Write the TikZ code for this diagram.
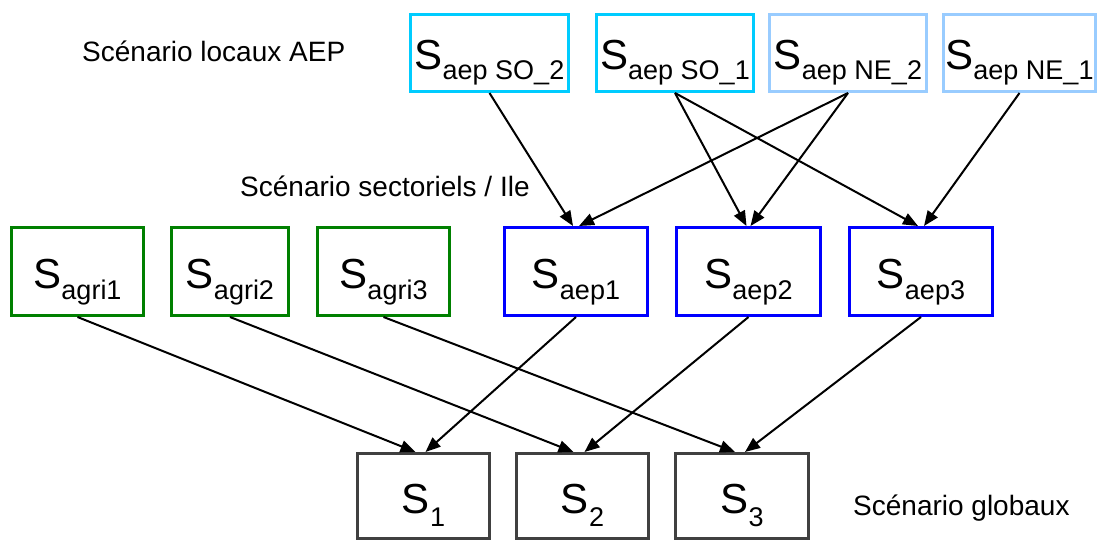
\documentclass[tikz,border=0pt]{standalone}
\usepackage{fontspec}
\setmainfont{Liberation Sans}
\usetikzlibrary{arrows.meta}
\definecolor{cyanb}{RGB}{0,204,255}
\definecolor{lblue}{RGB}{153,204,255}
\definecolor{greenb}{RGB}{0,128,0}
\definecolor{blueb}{RGB}{0,0,255}
\definecolor{grayb}{RGB}{64,64,64}
\newcommand\Sname[2][-10pt]{{\fontsize{42}{42}\selectfont S}\raisebox{#1}{\fontsize{27}{27}\selectfont #2}}
\begin{document}
\begin{tikzpicture}[x=1pt,y=-1pt,
  box/.style={draw,line width=3pt,inner sep=0pt,minimum height=#1},
  topbox/.style={box=77pt},
  midbox/.style={box=88pt},
  botbox/.style={box=85pt},
  txt/.style={anchor=base,inner sep=0pt},
  arr/.style={-{Triangle[length=15pt,width=12pt]},line width=2pt},
  lbl/.style={font=\fontsize{28}{28}\selectfont,inner sep=0pt}]
\useasboundingbox (0,0) rectangle (1100,545);
% top row
\node[topbox,draw=cyanb,minimum width=158pt] (so2) at (489.5,53) {};
\node[topbox,draw=cyanb,minimum width=157pt] (so1) at (675,53) {};
\node[topbox,draw=lblue,minimum width=157pt] (ne2) at (848,53) {};
\node[topbox,draw=lblue,minimum width=152pt] (ne1) at (1019.5,53) {};
\node[txt] (tso2) at (489.5,70) {\Sname{aep SO\_2}};
\node[txt] (tso1) at (675,70) {\Sname{aep SO\_1}};
\node[txt] (tne2) at (848,70) {\Sname{aep NE\_2}};
\node[txt] (tne1) at (1019.5,70) {\Sname{aep NE\_1}};
% middle row
\node[midbox,draw=greenb,minimum width=132pt] (ag1) at (77.5,271.5) {};
\node[midbox,draw=greenb,minimum width=117pt] (ag2) at (230,271.5) {};
\node[midbox,draw=greenb,minimum width=132pt] (ag3) at (383.5,271.5) {};
\node[midbox,draw=blueb,minimum width=143pt] (ae1) at (576,271.5) {};
\node[midbox,draw=blueb,minimum width=144pt] (ae2) at (748.5,271.5) {};
\node[midbox,draw=blueb,minimum width=143pt] (ae3) at (921,271.5) {};
\node[txt] (tag1) at (77.5,289) {\Sname{agri1}};
\node[txt] (tag2) at (230,289) {\Sname{agri2}};
\node[txt] (tag3) at (383.5,289) {\Sname{agri3}};
\node[txt] (tae1) at (576,289) {\Sname{aep1}};
\node[txt] (tae2) at (748.5,289) {\Sname{aep2}};
\node[txt] (tae3) at (921,289) {\Sname{aep3}};
% bottom row
\node[botbox,draw=grayb,minimum width=132pt] (s1) at (423.5,496) {};
\node[botbox,draw=grayb,minimum width=132pt] (s2) at (582.5,496) {};
\node[botbox,draw=grayb,minimum width=133pt] (s3) at (742,496) {};
\node[txt] (ts1) at (423.5,513) {\Sname[-13pt]{1}};
\node[txt] (ts2) at (582.5,513) {\Sname[-13pt]{2}};
\node[txt] (ts3) at (742,513) {\Sname[-13pt]{3}};
% labels
\node[lbl,anchor=base west] (l1) at (82,62) {Scénario locaux AEP};
\node[lbl,anchor=base west] (l2) at (240,197) {Scénario sectoriels / Ile};
\node[lbl,anchor=base west] (l3) at (853,515) {Scénario globaux};
% arrows top -> middle
\draw[arr] (so2.south) -- ([xshift=-3pt]ae1.north);
\draw[arr] (ne2.south) -- ([xshift=3pt]ae1.north);
\draw[arr] (so1.south) -- ([xshift=-2pt]ae2.north);
\draw[arr] (ne2.south) -- ([xshift=2pt]ae2.north);
\draw[arr] (so1.south) -- ([xshift=-3pt]ae3.north);
\draw[arr] (ne1.south) -- ([xshift=3pt]ae3.north);
% arrows middle -> bottom
\draw[arr] (ag1.south) -- ([xshift=-8pt]s1.north);
\draw[arr] (ae1.south) -- ([xshift=2pt]s1.north);
\draw[arr] (ag2.south) -- ([xshift=-9pt]s2.north);
\draw[arr] (ae2.south) -- ([xshift=2pt]s2.north);
\draw[arr] (ag3.south) -- ([xshift=-7pt]s3.north);
\draw[arr] (ae3.south) -- ([xshift=3pt]s3.north);
\end{tikzpicture}
\end{document}
